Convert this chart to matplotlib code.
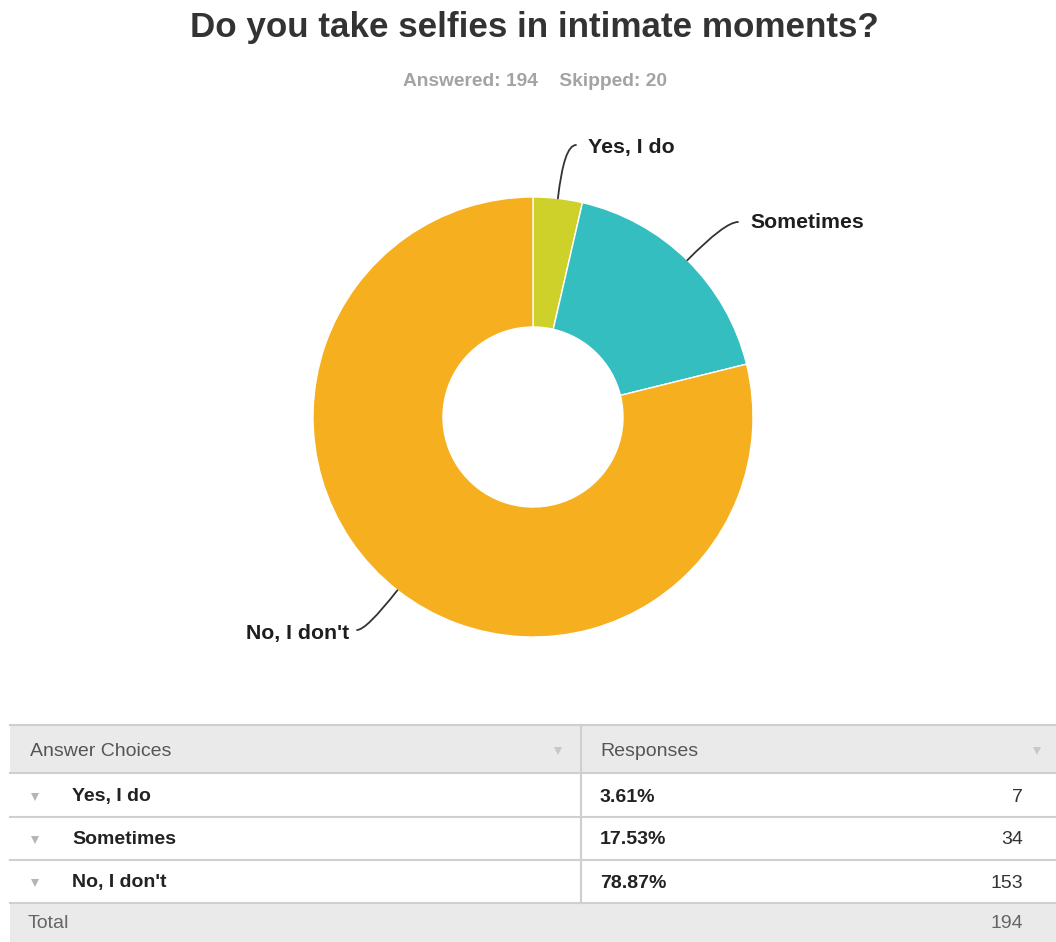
import numpy as np
import matplotlib
matplotlib.use("Agg")
import matplotlib.pyplot as plt
from matplotlib.patches import Rectangle

title = "Do you take selfies in intimate moments?"
answered, skipped = 194, 20
choices = ["Yes, I do", "Sometimes", "No, I don't"]
percents = [3.61, 17.53, 78.87]
counts = [7, 34, 153]
total = 194
colors = ["#CFD12B", "#35BEC0", "#F6AF1F"]

W, H = 1056, 942
fig = plt.figure(figsize=(W / 100, H / 100), dpi=100)
ax = fig.add_axes([0, 0, 1, 1])
ax.set_xlim(0, W)
ax.set_ylim(0, H)
ax.axis("off")

def Y(py):
    return H - py

sans = ["Liberation Sans", "DejaVu Sans"]

# Title and subtitle
ax.text(534, Y(28), title, ha="center", va="center", fontsize=25.2,
        fontweight="bold", color="#333333", family=sans)
ax.text(535, Y(81), f"Answered: {answered}    Skipped: {skipped}",
        ha="center", va="center", fontsize=13.8, fontweight="bold",
        color="#A3A3A3", family=sans)

# Donut
cx, cy, R = 533, Y(417), 220
wedges, _ = ax.pie(percents, colors=colors, startangle=90, counterclock=False,
                   center=(cx, cy), radius=R, frame=True,
                   wedgeprops=dict(width=R - 90, edgecolor="white", linewidth=1.0))
ax.set_xlim(0, W)
ax.set_ylim(0, H)
ax.axis("off")

label_pos = [(588, Y(148), "left"), (750, Y(223), "left"), (349, Y(633), "right")]
line_end = [(576, Y(145)), (738, Y(222)), (357, Y(630))]
for w, lab, (tx, ty, ha), (ex, ey) in zip(wedges, choices, label_pos, line_end):
    mid_deg = (w.theta1 + w.theta2) / 2
    ang = np.deg2rad(mid_deg)
    ax0, ay0 = cx + R * np.cos(ang), cy + R * np.sin(ang)
    ax.annotate("", xy=(ax0, ay0), xytext=(ex, ey),
                arrowprops=dict(arrowstyle="-", color="#333333", lw=1.3,
                                connectionstyle=f"angle3,angleA=0,angleB={mid_deg:.2f}",
                                shrinkA=0, shrinkB=0))
    ax.text(tx, ty, lab, ha=ha, va="center", fontsize=15.3, fontweight="bold",
            color="#1E1E1E", family=sans)

# Table
left, right, mid = 10, 1056, 581
rows_y = [725, 773, 817, 860, 903, 942]
ax.add_patch(Rectangle((left, Y(773)), right - left, 773 - 725, facecolor="#EAEAEA",
                       edgecolor="none"))
ax.add_patch(Rectangle((left, Y(942)), right - left, 942 - 903, facecolor="#EAEAEA",
                       edgecolor="none"))
for yy in rows_y[:-1]:
    ax.plot([left, right], [Y(yy), Y(yy)], color="#CFCFCF", lw=1.5)
ax.plot([mid, mid], [Y(725), Y(903)], color="#CFCFCF", lw=1.5)

fs = 14
hdr_y = 751
ax.text(30, Y(hdr_y), "Answer Choices", ha="left", va="center", fontsize=fs,
        color="#555555", family=sans)
ax.text(600, Y(hdr_y), "Responses", ha="left", va="center", fontsize=fs,
        color="#555555", family=sans)
for tx in (558, 1037):
    ax.plot([tx], [Y(hdr_y)], marker="v", markersize=6, color="#C8C8C8",
            markeredgewidth=0)

row_centers = [797, 840, 883]
for yc, lab, pc, cnt in zip(row_centers, choices, percents, counts):
    ax.plot([35], [Y(yc)], marker="v", markersize=6, color="#B5B5B5",
            markeredgewidth=0)
    ax.text(72, Y(yc), lab, ha="left", va="center", fontsize=fs,
            fontweight="bold", color="#222222", family=sans)
    ax.text(600, Y(yc), f"{pc:.2f}%", ha="left", va="center", fontsize=fs,
            fontweight="bold", color="#222222", family=sans)
    ax.text(1023, Y(yc), f"{cnt}", ha="right", va="center", fontsize=fs,
            color="#333333", family=sans)

ax.text(28, Y(924), "Total", ha="left", va="center", fontsize=fs,
        color="#666666", family=sans)
ax.text(1023, Y(924), f"{total}", ha="right", va="center", fontsize=fs,
        color="#666666", family=sans)

fig.savefig("out.png", dpi=100, facecolor="white")
